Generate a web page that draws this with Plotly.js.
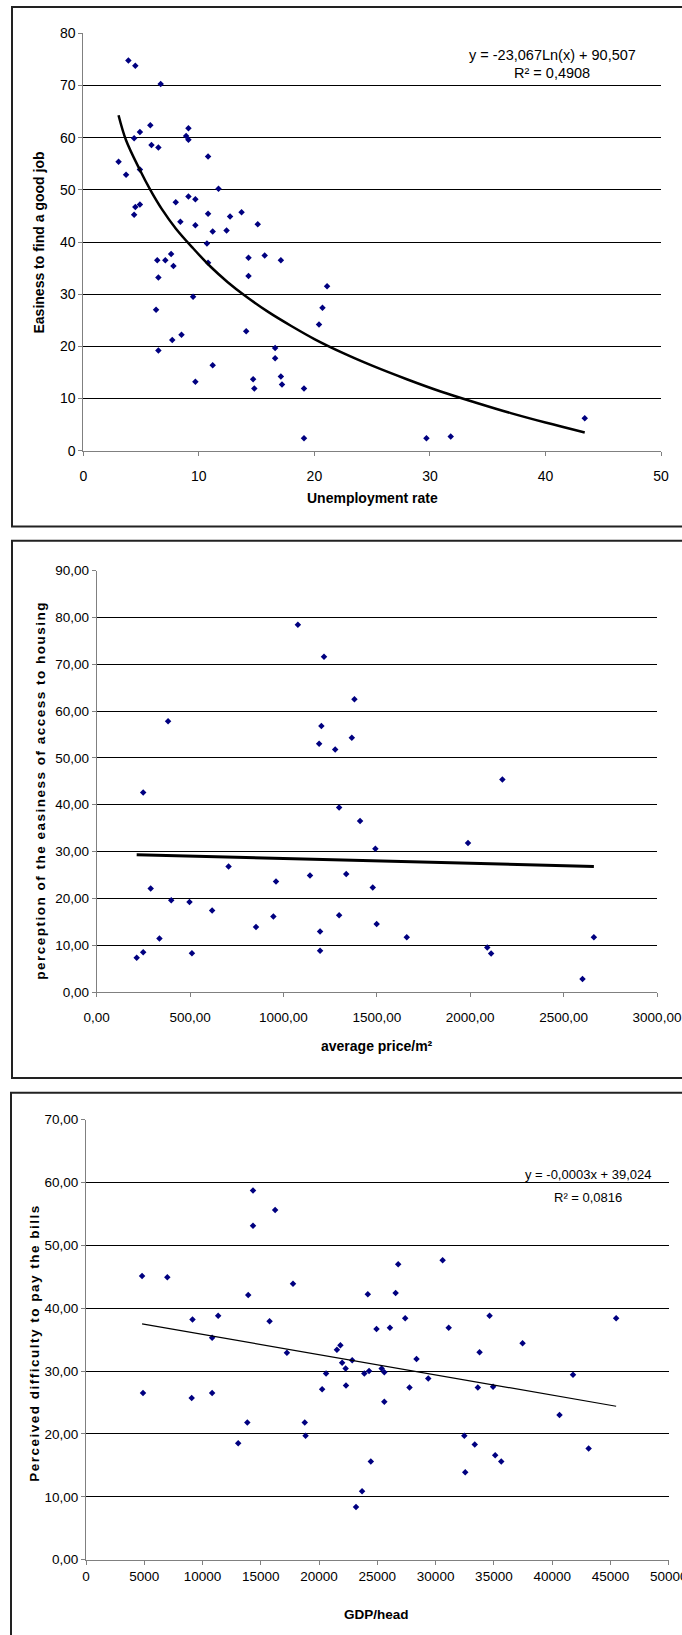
<!DOCTYPE html>
<html>
<head>
<meta charset="utf-8">
<script src="https://cdn.plot.ly/plotly-3.0.1.min.js"></script>
<style>
  html, body { margin: 0; padding: 0; background: #fff; }
  #chart { width: 682px; height: 1635px; }
</style>
</head>
<body>
<div id="chart"></div>
<script>
// ---------- Panel 1: Unemployment rate vs Easiness to find a good job ----------
const unemploymentRate = [3.9,4.5,6.7,3.05,3.7,4.4,4.9,5.8,5.9,6.5,4.9,4.5,4.9,4.4,9.1,8.9,9.1,10.8,11.7,8.0,9.1,9.7,8.4,9.7,10.8,11.2,12.7,13.7,12.4,15.1,10.7,
  10.8,6.4,7.1,7.6,7.8,6.5,9.5,6.3,8.5,7.7,6.5,11.2,9.7,14.3,15.7,17.1,14.3,14.1,16.6,16.6,14.7,14.8,17.1,17.2,19.1,19.1,20.4,20.7,21.1,29.7,31.8,43.4];
const easinessGoodJob = [74.8,73.8,70.3,55.4,52.9,59.9,61.1,62.4,58.6,58.1,53.9,46.7,47.2,45.2,61.8,60.3,59.6,56.4,50.2,47.6,48.7,48.2,43.9,43.2,45.4,42.0,44.9,45.7,42.2,43.4,39.7,
  36.0,36.5,36.5,37.7,35.4,33.2,29.5,27.0,22.2,21.2,19.2,16.4,13.2,37.0,37.4,36.5,33.5,22.9,19.7,17.7,13.7,11.9,14.2,12.7,11.9,2.4,24.2,27.4,31.5,2.4,2.7,6.2];
// trend curve points
const trend1X = [3.05,3.7,4.9,5.8,6.8,8.0,9.5,11.0,12.5,14.0,16.0,18.0,20.0,22.5,25.0,28.0,31.0,34.0,37.0,40.0,43.4];
const trend1Y = [64.3,59.5,53.8,50.0,46.3,42.6,38.8,35.3,32.3,29.7,26.6,23.9,21.4,18.7,16.3,13.7,11.3,9.2,7.2,5.4,3.5];
const p1XTicks = [0,10,20,30,40,50];
const p1XTickText = ['0','10','20','30','40','50'];
const p1YTicks = [0,10,20,30,40,50,60,70,80];
const p1YTickText = ['0','10','20','30','40','50','60','70','80'];
const p1XTitle = 'Unemployment rate';
const p1YTitle = 'Easiness to find a good job';
const p1Equation = 'y = -23,067Ln(x) + 90,507';
const p1R2 = 'R² = 0,4908';

// ---------- Panel 2: average price/m² vs perception of access to housing ----------
const avgPrice = [1077,1217,1380,382,1203,1191,1277,1366,2172,249,1298,1410,1492,1988,706,1142,1336,960,1478,
  289,399,497,618,946,1298,1499,853,1196,1660,2662,336,2091,2112,1196,249,510,214,2601];
const housingAccess = [78.4,71.6,62.5,57.8,56.8,53.0,51.8,54.3,45.4,42.6,39.4,36.5,30.6,31.8,26.8,24.9,25.2,23.6,22.3,
  22.1,19.6,19.2,17.4,16.1,16.4,14.5,13.9,12.9,11.7,11.7,11.4,9.5,8.2,8.8,8.5,8.3,7.3,2.8];
const trend2X = [214, 2662];
const trend2Y = [29.3, 26.8];
const p2XTicks = [0,500,1000,1500,2000,2500,3000];
const p2XTickText = ['0,00','500,00','1000,00','1500,00','2000,00','2500,00','3000,00'];
const p2YTicks = [0,10,20,30,40,50,60,70,80,90];
const p2YTickText = ['0,00','10,00','20,00','30,00','40,00','50,00','60,00','70,00','80,00','90,00'];
const p2XTitle = 'average price/m²';
const p2YTitle = 'perception of the easiness of access to housing';

// ---------- Panel 3: GDP/head vs Perceived difficulty to pay the bills ----------
const gdpHead = [14330,16230,14330,30600,26790,4810,6980,17760,24180,26570,13920,9140,11340,15750,27390,34630,45490,24930,26080,31120,10820,37460,21830,21530,17240,33770,
  22840,28360,21980,22280,25370,24290,25600,20600,23880,29370,41790,34930,33620,27760,22310,20260,25600,4890,9070,10820,40630,13840,18770,18840,13060,32460,33360,43130,35110,35630,24440,32540,23690,23170];
const billsDifficulty = [58.7,55.6,53.1,47.6,47.0,45.1,44.9,43.9,42.2,42.4,42.1,38.2,38.8,37.9,38.4,38.8,38.4,36.7,36.9,36.9,35.3,34.4,34.1,33.4,32.9,33.0,
  31.7,31.9,31.3,30.4,30.4,30.0,29.8,29.6,29.6,28.8,29.4,27.5,27.4,27.4,27.7,27.1,25.1,26.5,25.7,26.5,23.0,21.8,21.8,19.7,18.5,19.7,18.3,17.7,16.6,15.6,15.6,13.9,10.9,8.4];
const trend3X = [4810, 45490];
const trend3Y = [37.5, 24.4];
const p3XTicks = [0,5000,10000,15000,20000,25000,30000,35000,40000,45000,50000];
const p3XTickText = ['0','5000','10000','15000','20000','25000','30000','35000','40000','45000','50000'];
const p3YTicks = [0,10,20,30,40,50,60,70];
const p3YTickText = ['0,00','10,00','20,00','30,00','40,00','50,00','60,00','70,00'];
const p3XTitle = 'GDP/head';
const p3YTitle = 'Perceived difficulty to pay the bills';
const p3Equation = 'y = -0,0003x + 39,024';
const p3R2 = 'R² = 0,0816';

// ---------- styling ----------
const FONT = 'Liberation Sans, Arial, Helvetica, sans-serif';
const MARKER = {symbol: 'diamond', size: 5, color: '#000080', line: {width: 0}};
const W = 682, H = 1635;
const px = v => v / W;
const py = v => 1 - v / H;

function xAxis(domain, range, tv, tt, anchor, fs, lblStand) {
  return {
    domain: domain, range: range, anchor: anchor,
    tickmode: 'array', tickvals: tv, ticktext: tt,
    ticks: 'outside', ticklen: 4, tickcolor: '#808080', tickwidth: 1,
    ticklabelstandoff: lblStand, ticklabeloverflow: 'allow',
    showline: true, linecolor: '#808080', linewidth: 1,
    showgrid: false, zeroline: false,
    tickfont: {family: FONT, size: fs, color: '#000'},
    automargin: false, fixedrange: true
  };
}
function yAxis(domain, range, tv, tt, anchor, fs, lblStand) {
  return {
    domain: domain, range: range, anchor: anchor,
    tickmode: 'array', tickvals: tv, ticktext: tt,
    ticks: 'outside', ticklen: 4, tickcolor: '#808080', tickwidth: 1,
    ticklabelstandoff: lblStand, ticklabeloverflow: 'allow',
    showline: true, linecolor: '#808080', linewidth: 1,
    showgrid: true, gridcolor: '#000', gridwidth: 1, zeroline: false,
    tickfont: {family: FONT, size: fs, color: '#000'},
    automargin: false, fixedrange: true
  };
}
function axisTitle(text, xPix, yPix, size, angle) {
  return {xref: 'paper', yref: 'paper', x: px(xPix), y: py(yPix), text: text, showarrow: false,
          xanchor: 'center', yanchor: 'middle', textangle: angle,
          font: {family: FONT, size: size, color: '#000', weight: 'bold'}};
}
function note(text, xr, yr, x, y, size) {
  return {xref: xr, yref: yr, x: x, y: y, text: text, showarrow: false, xanchor: 'center', yanchor: 'middle',
          font: {family: FONT, size: size, color: '#000'}};
}

const traces = [
  {x: unemploymentRate, y: easinessGoodJob, xaxis: 'x', yaxis: 'y', type: 'scatter', mode: 'markers', marker: MARKER, hoverinfo: 'skip'},
  {x: trend1X, y: trend1Y, xaxis: 'x', yaxis: 'y', type: 'scatter', mode: 'lines', line: {color: '#000', width: 2.5, shape: 'spline'}, hoverinfo: 'skip'},
  {x: avgPrice, y: housingAccess, xaxis: 'x2', yaxis: 'y2', type: 'scatter', mode: 'markers', marker: MARKER, hoverinfo: 'skip'},
  {x: trend2X, y: trend2Y, xaxis: 'x2', yaxis: 'y2', type: 'scatter', mode: 'lines', line: {color: '#000', width: 3}, hoverinfo: 'skip'},
  {x: gdpHead, y: billsDifficulty, xaxis: 'x3', yaxis: 'y3', type: 'scatter', mode: 'markers', marker: MARKER, hoverinfo: 'skip'},
  {x: trend3X, y: trend3Y, xaxis: 'x3', yaxis: 'y3', type: 'scatter', mode: 'lines', line: {color: '#000', width: 1.2}, hoverinfo: 'skip'}
];

const layout = {
  width: W, height: H,
  margin: {l: 0, r: 0, t: 0, b: 0, pad: 0},
  paper_bgcolor: '#fff', plot_bgcolor: '#fff',
  showlegend: false,
  font: {family: FONT, color: '#000'},
  xaxis:  xAxis([px(83.3), px(661)], [0, 50], p1XTicks, p1XTickText, 'y', 14, 8),
  yaxis:  yAxis([py(450.7), py(33.3)], [0, 80], p1YTicks, p1YTickText, 'x', 14, 3.5),
  xaxis2: xAxis([px(96.7), px(657)], [0, 3000], p2XTicks, p2XTickText, 'y2', 13.5, 9),
  yaxis2: yAxis([py(992), py(570.5)], [0, 90], p2YTicks, p2YTickText, 'x2', 13.5, 2.5),
  xaxis3: xAxis([px(86), px(668.7)], [0, 50000], p3XTicks, p3XTickText, 'y3', 13.5, 12.5),
  yaxis3: yAxis([py(1559.7), py(1119.5)], [0, 70], p3YTicks, p3YTickText, 'x3', 13.5, 2.5),
  annotations: [
    axisTitle(p1XTitle, 372, 498, 14, 0),
    axisTitle(p1YTitle, 39, 242.5, 14, -90),
    axisTitle(p2XTitle, 377, 1046, 14, 0),
    axisTitle(p2YTitle, 39.5, 791, 13.5, -90),
    axisTitle(p3XTitle, 377, 1614, 13.5, 0),
    axisTitle(p3YTitle, 34, 1343, 13.5, -90),
    note(p1Equation, 'x', 'y', 40.6, 75.8, 14.5),
    note(p1R2, 'x', 'y', 40.6, 72.4, 14.5),
    note(p3Equation, 'x3', 'y3', 43075, 61.3, 13),
    note(p3R2, 'x3', 'y3', 43075, 57.6, 13)
  ],
  shapes: [
    {type: 'rect', xref: 'paper', yref: 'paper', x0: px(12), x1: px(700), y0: py(526.5), y1: py(7), line: {color: '#222', width: 2}, fillcolor: 'rgba(0,0,0,0)', layer: 'below'},
    {type: 'rect', xref: 'paper', yref: 'paper', x0: px(12), x1: px(700), y0: py(1078), y1: py(540.7), line: {color: '#222', width: 2}, fillcolor: 'rgba(0,0,0,0)', layer: 'below'},
    {type: 'rect', xref: 'paper', yref: 'paper', x0: px(11), x1: px(700), y0: py(1660), y1: py(1092.7), line: {color: '#222', width: 2}, fillcolor: 'rgba(0,0,0,0)', layer: 'below'}
  ]
};

Plotly.newPlot('chart', traces, layout, {staticPlot: true, displayModeBar: false}).then(function () {
  document.querySelectorAll('.annotation-text').forEach(function (t) {
    if (t.textContent === p2YTitle || t.textContent === p3YTitle) t.style.letterSpacing = '1.5px';
  });
});
</script>
</body>
</html>
